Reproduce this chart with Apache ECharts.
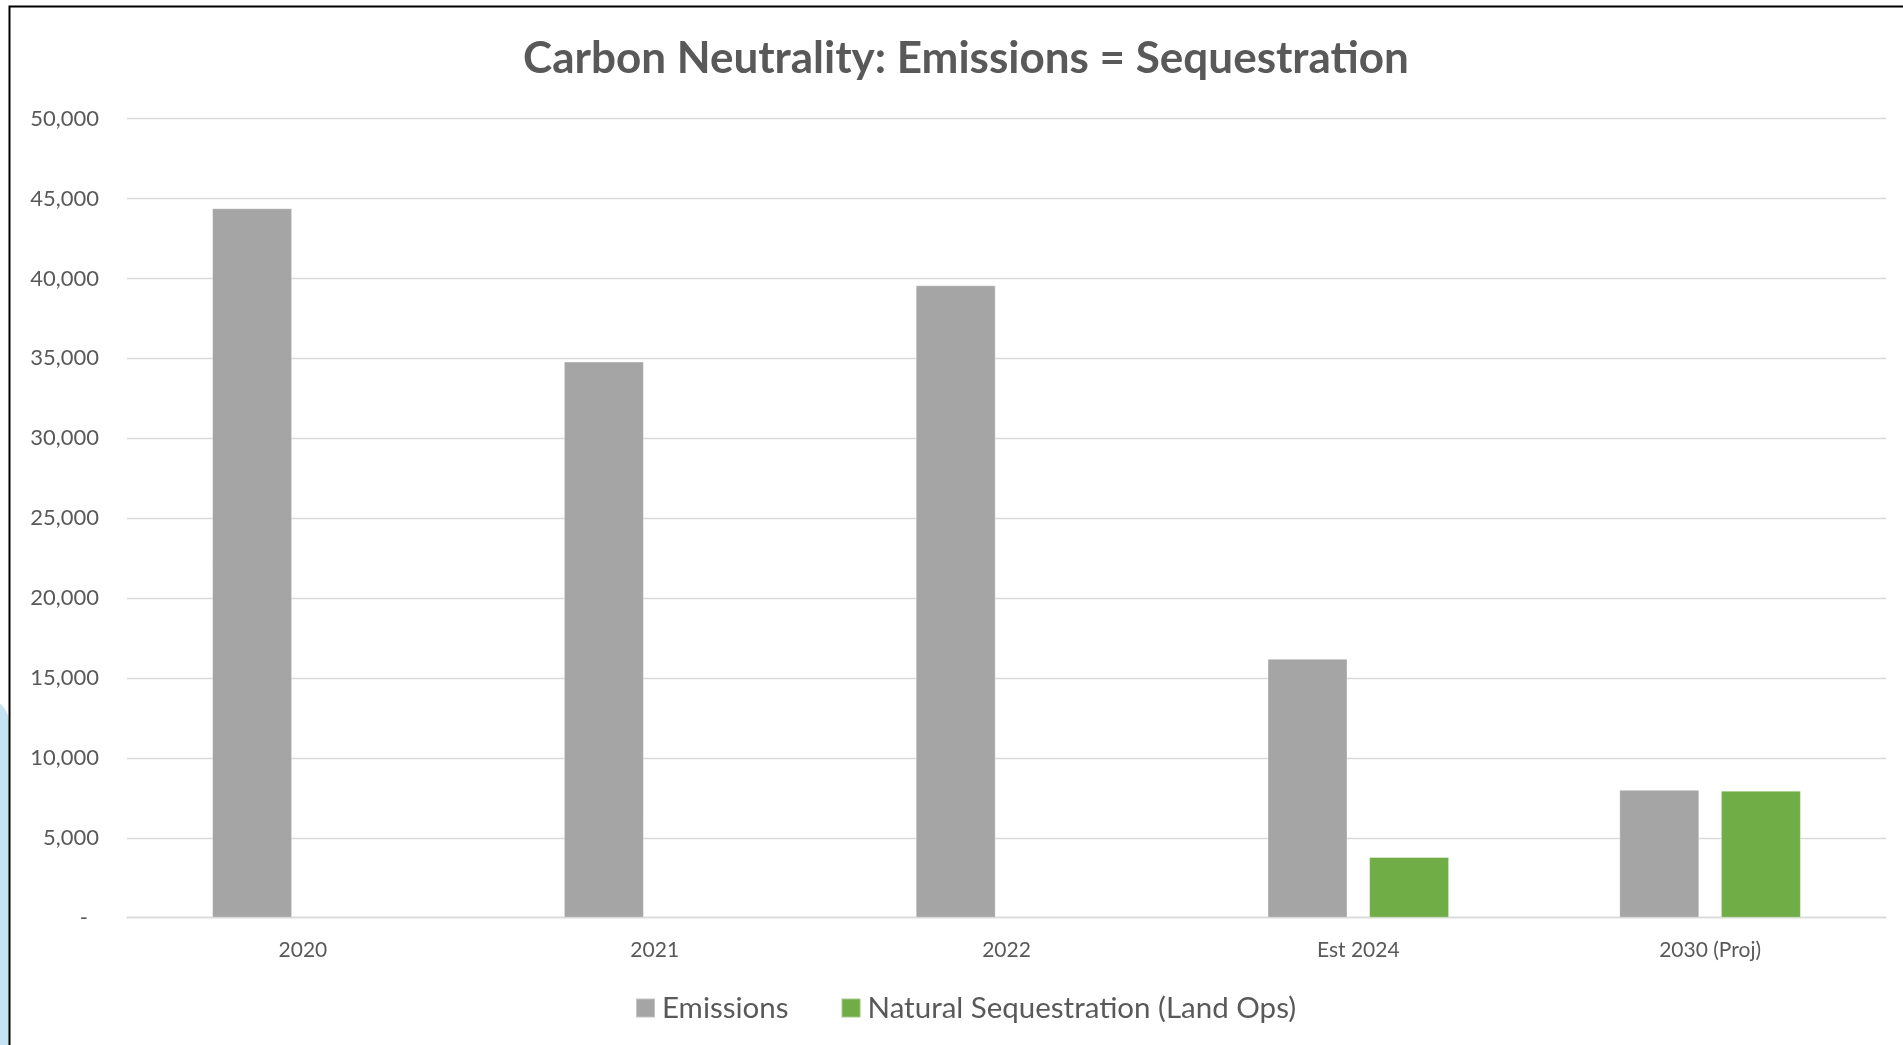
<!DOCTYPE html>
<html>
<head>
<meta charset="utf-8">
<script src="https://cdn.jsdelivr.net/npm/echarts@6/dist/echarts.min.js"></script>
<style>
html,body{margin:0;padding:0;background:#fff;}
#chart{width:1903px;height:1045px;}
</style>
</head>
<body>
<div id="chart"></div>
<script>
const categories = ['2020', '2021', '2022', 'Est 2024', '2030 (Proj)'];
const emissions = [44400, 34800, 39570, 16200, 8000];
const sequestration = [null, null, null, 3800, 7950];
const yTicks = { min: 0, max: 50000, step: 5000 };

function fmt(v) {
  if (v === 0) return '{z|-}';
  return String(v).replace(/\B(?=(\d{3})+(?!\d))/g, ',');
}

const FONT = 'Lato';
const TXT = '#595959';

const chart = echarts.init(document.getElementById('chart'), null, { renderer: 'canvas' });
chart.setOption({
  backgroundColor: '#ffffff',
  animation: false,
  textStyle: { fontFamily: FONT },
  graphic: [
    { type: 'rect', z: 0, shape: { x: -40, y: 698, width: 49, height: 500, r: 30 }, style: { fill: '#c6e3f4' } },
    { type: 'rect', z: 1, shape: { x: 9.5, y: 6.5, width: 2000, height: 2000 }, style: { fill: 'none', stroke: '#000', lineWidth: 2 } }
  ],
  title: {
    text: 'Carbon Neutrality: Emissions = Sequestration',
    left: 961, top: 32, textAlign: 'center',
    textStyle: { fontFamily: FONT, fontWeight: 'bold', fontSize: 44, color: TXT }
  },
  legend: {
    bottom: 17, left: 630,
    itemWidth: 19, itemHeight: 19, itemGap: 52,
    icon: 'rect',
    textStyle: { fontFamily: FONT, fontSize: 29.5, color: TXT, padding: [0, 0, 0, 2] },
    data: ['Emissions', 'Natural Sequestration (Land Ops)']
  },
  grid: { left: 127, right: 17, top: 118.7, bottom: 127.3, containLabel: false },
  xAxis: {
    type: 'category',
    data: categories,
    axisLine: { show: true, lineStyle: { color: '#d9d9d9', width: 1.3 } },
    axisTick: { show: false },
    axisLabel: { fontFamily: FONT, fontSize: 21, color: TXT, margin: 22 }
  },
  yAxis: {
    type: 'value',
    min: yTicks.min, max: yTicks.max, interval: yTicks.step,
    axisLine: { show: false },
    axisTick: { show: false },
    splitLine: { lineStyle: { color: '#d9d9d9', width: 1.3 } },
    axisLabel: {
      fontFamily: FONT, fontSize: 22, color: TXT, margin: 28,
      formatter: fmt,
      rich: { z: { fontFamily: FONT, fontSize: 22, color: TXT, padding: [0, 11, 0, 0] } }
    }
  },
  series: [
    {
      name: 'Emissions', type: 'bar', data: emissions,
      barWidth: 80, barGap: '27%',
      itemStyle: { color: '#a5a5a5', borderColor: 'rgba(255,255,255,0.35)', borderWidth: 1 }
    },
    {
      name: 'Natural Sequestration (Land Ops)', type: 'bar', data: sequestration,
      barWidth: 80, barGap: '27%',
      itemStyle: { color: '#70ad47', borderColor: 'rgba(255,255,255,0.35)', borderWidth: 1 }
    }
  ]
});
</script>
</body>
</html>
